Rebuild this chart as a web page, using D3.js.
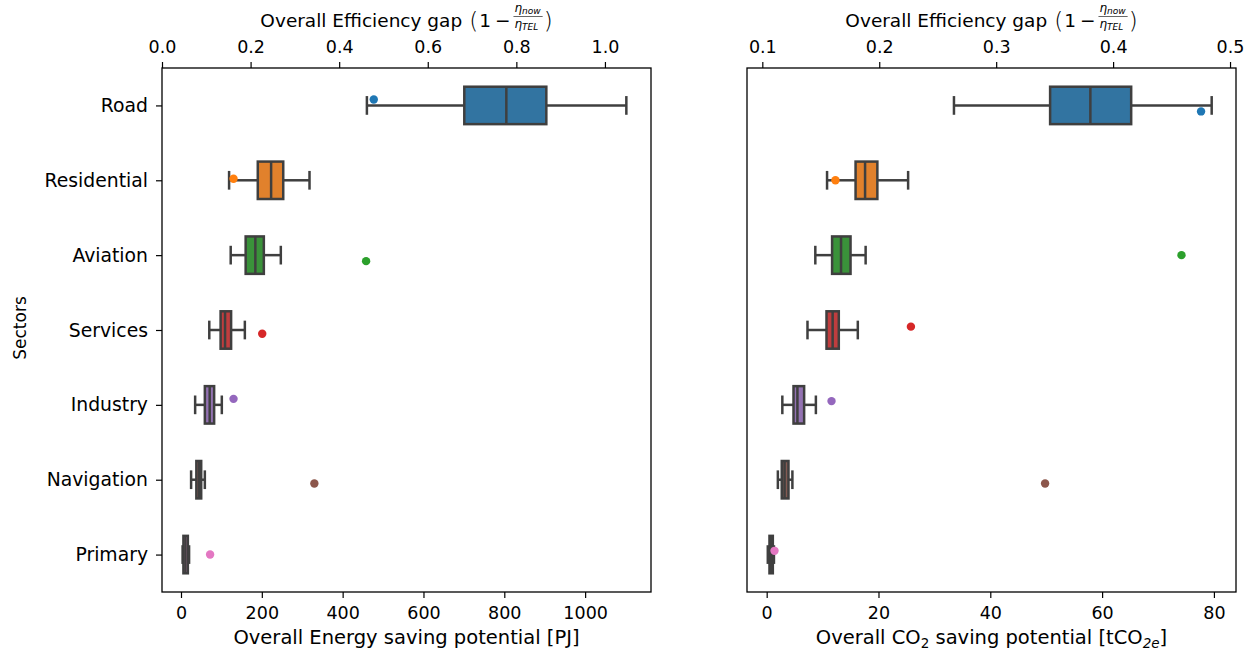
<!DOCTYPE html>
<html>
<head>
<meta charset="utf-8">
<script src="https://cdn.jsdelivr.net/npm/d3@7/dist/d3.min.js"></script>
<style>
  body { margin: 0; background: #ffffff; }
  text { font-family: "DejaVu Sans", sans-serif; fill: #000000; }
</style>
</head>
<body>
<svg id="chart" width="1253" height="656"></svg>
<script>
// sectors, top to bottom
var sectors = ["Road", "Residential", "Aviation", "Services", "Industry", "Navigation", "Primary"];

// energy saving potential [PJ] : whisker low, q1, median, q3, whisker high
var energyLow  = [460, 119, 123, 70, 35, 25, 4];
var energyQ1   = [701, 190, 160, 98, 59, 38, 6];
var energyMed  = [805, 223, 184, 109, 71, 45, 11];
var energyQ3   = [904, 253, 205, 124, 82, 50, 17];
var energyHigh = [1102, 318, 247, 158, 101, 59, 20];
// single strip points and their jitter (category units)
var energyDot    = [477, 130, 458, 201, 130, 330, 72];
var energyJitter = [-0.08, -0.02, 0.08, 0.05, -0.08, 0.05, 0];

// CO2 saving potential [tCO2e]
var co2Low  = [33.5, 10.8, 8.7, 7.3, 2.8, 2.0, 0.2];
var co2Q1   = [50.7, 15.9, 11.7, 10.7, 4.8, 2.7, 0.5];
var co2Med  = [57.9, 17.6, 13.3, 11.8, 5.5, 3.2, 0.8];
var co2Q3   = [65.2, 19.8, 15.0, 12.9, 6.7, 3.9, 1.1];
var co2High = [79.6, 25.3, 17.7, 16.3, 8.8, 4.6, 1.3];
var co2Dot    = [77.7, 12.3, 74.2, 25.8, 11.6, 49.8, 1.4];
var co2Jitter = [0.08, 0, 0, -0.045, -0.05, 0.05, -0.05];

var energyTicks = [0, 200, 400, 600, 800, 1000];
var co2Ticks = [0, 20, 40, 60, 80];
var gapTicksLeft = [0.0, 0.2, 0.4, 0.6, 0.8, 1.0];
var gapTicksRight = [0.1, 0.2, 0.3, 0.4, 0.5];

var boxColors = ["#3274a1", "#e1812c", "#3a923a", "#c03d3e", "#9372b2", "#845b53", "#d684bd"];
var dotColors = ["#1f77b4", "#ff7f0e", "#2ca02c", "#d62728", "#9467bd", "#8c564b", "#e377c2"];
var lineGray = "#3f3f3f";

var svg = d3.select("#chart");

var top_ = 68, bottom_ = 592;
var xTickFont = "17.5px", yTickFont = "18.8px";

// #####################################################
// one boxplot panel with bottom and top axes
//
function plot_panel(opts) {
  var x = d3.scaleLinear().domain(opts.xDomain).range([opts.left, opts.right]);
  var xTop = d3.scaleLinear().domain(opts.topDomain).range([opts.left, opts.right]);
  var y = d3.scaleLinear().domain([-0.5, 6.5]).range([top_, bottom_]);

  var g = svg.append("g");

  var rows = sectors.map(function(s, i) {
    return {name: s, i: i, lo: opts.low[i], q1: opts.q1[i], med: opts.med[i],
            q3: opts.q3[i], hi: opts.high[i], dot: opts.dot[i], jit: opts.jitter[i]};
  });

  var halfBox = 0.25, halfCap = 0.125;

  // whiskers
  g.selectAll(".wlo").data(rows).enter().append("line")
    .attr("x1", function(d) { return x(d.lo); })
    .attr("x2", function(d) { return x(d.q1); })
    .attr("y1", function(d) { return y(d.i); })
    .attr("y2", function(d) { return y(d.i); })
    .attr("stroke", lineGray).attr("stroke-width", 2.5);
  g.selectAll(".whi").data(rows).enter().append("line")
    .attr("x1", function(d) { return x(d.q3); })
    .attr("x2", function(d) { return x(d.hi); })
    .attr("y1", function(d) { return y(d.i); })
    .attr("y2", function(d) { return y(d.i); })
    .attr("stroke", lineGray).attr("stroke-width", 2.5);

  // caps
  ["lo", "hi"].forEach(function(k) {
    g.selectAll(".cap" + k).data(rows).enter().append("line")
      .attr("x1", function(d) { return x(d[k]); })
      .attr("x2", function(d) { return x(d[k]); })
      .attr("y1", function(d) { return y(d.i - halfCap); })
      .attr("y2", function(d) { return y(d.i + halfCap); })
      .attr("stroke", lineGray).attr("stroke-width", 2.5);
  });

  // boxes
  g.selectAll(".box").data(rows).enter().append("rect")
    .attr("x", function(d) { return x(d.q1); })
    .attr("width", function(d) { return x(d.q3) - x(d.q1); })
    .attr("y", function(d) { return y(d.i - halfBox); })
    .attr("height", function(d) { return y(d.i + halfBox) - y(d.i - halfBox); })
    .attr("fill", function(d) { return boxColors[d.i]; })
    .attr("stroke", lineGray).attr("stroke-width", 2.5);

  // medians
  g.selectAll(".med").data(rows).enter().append("line")
    .attr("x1", function(d) { return x(d.med); })
    .attr("x2", function(d) { return x(d.med); })
    .attr("y1", function(d) { return y(d.i - halfBox); })
    .attr("y2", function(d) { return y(d.i + halfBox); })
    .attr("stroke", lineGray).attr("stroke-width", 2.5);

  // strip points
  g.selectAll(".dot").data(rows).enter().append("circle")
    .attr("cx", function(d) { return x(d.dot); })
    .attr("cy", function(d) { return y(d.i + d.jit); })
    .attr("r", 4.2)
    .attr("fill", function(d) { return dotColors[d.i]; });

  // frame
  g.append("rect")
    .attr("x", opts.left).attr("y", top_)
    .attr("width", opts.right - opts.left).attr("height", bottom_ - top_)
    .attr("fill", "none").attr("stroke", "#000").attr("stroke-width", 1.3);

  // bottom axis
  var ax = g.append("g").attr("transform", "translate(0," + bottom_ + ")")
    .call(d3.axisBottom(x).tickValues(opts.ticks).tickFormat(d3.format("d"))
      .tickSize(6).tickSizeOuter(0).tickPadding(9));
  ax.select(".domain").remove();
  ax.selectAll("text").style("font-size", xTickFont).style("font-family", "DejaVu Sans").attr("fill", "#000");
  ax.selectAll("line").attr("stroke", "#000").attr("stroke-width", 1.2);

  // top axis
  var at = g.append("g").attr("transform", "translate(0," + top_ + ")")
    .call(d3.axisTop(xTop).tickValues(opts.topTicks).tickFormat(d3.format(".1f"))
      .tickSize(6).tickSizeOuter(0).tickPadding(9));
  at.select(".domain").remove();
  at.selectAll("text").style("font-size", xTickFont).style("font-family", "DejaVu Sans").attr("fill", "#000");
  at.selectAll("line").attr("stroke", "#000").attr("stroke-width", 1.2);

  // left axis (categories)
  if (opts.yLabels) {
    var ay = g.append("g").attr("transform", "translate(" + opts.left + ",0)")
      .call(d3.axisLeft(y).tickValues(d3.range(sectors.length))
        .tickFormat(function(i) { return sectors[i]; })
        .tickSize(6).tickSizeOuter(0).tickPadding(8));
    ay.select(".domain").remove();
    ay.selectAll("text").style("font-size", yTickFont).style("font-family", "DejaVu Sans").attr("fill", "#000");
    ay.selectAll("line").attr("stroke", "#000").attr("stroke-width", 1.2);

    g.append("text")
      .attr("transform", "translate(26," + ((top_ + bottom_) / 2 - 2) + ") rotate(-90)")
      .attr("text-anchor", "middle")
      .style("font-size", "17px")
      .text("Sectors");
  }

  // bottom label
  var cx = (opts.left + opts.right) / 2;
  var bl = g.append("text").attr("x", cx).attr("y", 644)
    .attr("text-anchor", "middle").style("font-size", "19.5px");
  opts.bottomLabel.forEach(function(p) {
    var t = bl.append("tspan").text(p.t);
    if (p.sub) {
      t.attr("dy", 4).style("font-size", "13.5px");
      if (p.it) t.style("font-style", "italic");
    } else if (p.after) {
      t.attr("dy", -4);
    }
  });

  // top label with fraction
  var tl = g.append("g");
  var base = 27;
  var t1 = tl.append("text").attr("x", 0).attr("y", base).style("font-size", "18.5px")
    .text("Overall Efficiency gap");
  var w = t1.node().getComputedTextLength() + 7;
  var lp = tl.append("text").attr("x", w).attr("y", base + 2).style("font-size", "23px").style("font-weight", "200").text("(");
  w += lp.node().getComputedTextLength() + 1;
  var t2 = tl.append("text").attr("x", w).attr("y", base).style("font-size", "18.5px").text("1");
  w += t2.node().getComputedTextLength() + 4;
  var t3 = tl.append("text").attr("x", w).attr("y", base).style("font-size", "18.5px").text("\u2212");
  w += t3.node().getComputedTextLength() + 3;
  var num = tl.append("text").attr("x", w + 1).attr("y", base - 15).style("font-size", "12px").style("font-style", "italic");
  num.append("tspan").text("\u03b7");
  num.append("tspan").attr("dy", 1.5).style("font-size", "9px").text("now");
  var den = tl.append("text").attr("x", w + 1).attr("y", base + 1).style("font-size", "12px").style("font-style", "italic");
  den.append("tspan").text("\u03b7");
  den.append("tspan").attr("dy", 1.5).style("font-size", "9px").text("TEL");
  var fw = Math.max(num.node().getComputedTextLength(), den.node().getComputedTextLength()) + 3;
  tl.append("line").attr("x1", w).attr("x2", w + fw).attr("y1", base - 10.5).attr("y2", base - 10.5)
    .attr("stroke", "#000").attr("stroke-width", 0.6);
  w += fw + 1;
  var rp = tl.append("text").attr("x", w).attr("y", base + 2).style("font-size", "23px").style("font-weight", "200").text(")");
  w += rp.node().getComputedTextLength();
  tl.attr("transform", "translate(" + (cx - w / 2) + ",0)");
}

plot_panel({
  left: 162, right: 651,
  xDomain: [-47, 1163], topDomain: [0, 1.104],
  ticks: energyTicks, topTicks: gapTicksLeft,
  low: energyLow, q1: energyQ1, med: energyMed, q3: energyQ3, high: energyHigh,
  dot: energyDot, jitter: energyJitter,
  yLabels: true,
  bottomLabel: [{t: "Overall Energy saving potential [PJ]"}]
});

plot_panel({
  left: 747, right: 1236,
  xDomain: [-3.52, 83.95], topDomain: [0.0869, 0.5051],
  ticks: co2Ticks, topTicks: gapTicksRight,
  low: co2Low, q1: co2Q1, med: co2Med, q3: co2Q3, high: co2High,
  dot: co2Dot, jitter: co2Jitter,
  yLabels: false,
  bottomLabel: [{t: "Overall CO"}, {t: "2", sub: true}, {t: " saving potential [tCO", after: true},
                {t: "2e", sub: true, it: true}, {t: "]", after: true}]
});
</script>
</body>
</html>
